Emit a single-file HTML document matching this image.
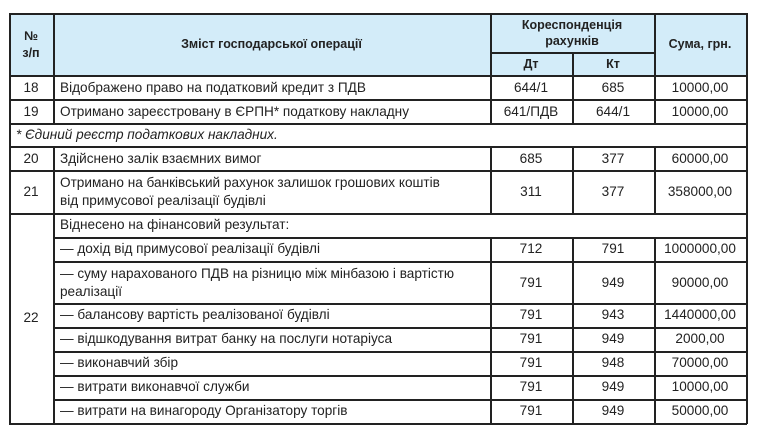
<!DOCTYPE html>
<html><head><meta charset="utf-8"><style>
body{margin:0;width:758px;height:437px;background:#fff;position:relative;overflow:hidden;font-family:"Liberation Sans","DejaVu Sans",sans-serif;font-size:13.6px;color:#222}
.h{position:absolute;height:1.5px;background:#222}
.v{position:absolute;width:1.5px;background:#222}
.bg{position:absolute;background:#d3ecf9}
.t{position:absolute;white-space:nowrap;line-height:16px}
.c{text-align:center}
.b{font-weight:bold}
</style></head><body>
<div class="bg" style="left:9px;top:13px;width:737px;height:62px"></div>
<!-- horizontal lines -->
<div class="h" style="left:9px;top:13px;width:738px"></div>
<div class="h" style="left:490px;top:52px;width:164px"></div>
<div class="h" style="left:9px;top:75px;width:738px"></div>
<div class="h" style="left:9px;top:99px;width:738px"></div>
<div class="h" style="left:9px;top:123px;width:738px"></div>
<div class="h" style="left:9px;top:146px;width:738px"></div>
<div class="h" style="left:9px;top:170px;width:738px"></div>
<div class="h" style="left:9px;top:213px;width:738px"></div>
<div class="h" style="left:53px;top:237px;width:694px"></div>
<div class="h" style="left:53px;top:261px;width:694px"></div>
<div class="h" style="left:53px;top:303px;width:694px"></div>
<div class="h" style="left:53px;top:327px;width:694px"></div>
<div class="h" style="left:53px;top:351px;width:694px"></div>
<div class="h" style="left:53px;top:375px;width:694px"></div>
<div class="h" style="left:53px;top:399px;width:694px"></div>
<div class="h" style="left:9px;top:423px;width:738px"></div>
<!-- vertical lines -->
<div class="v" style="left:9px;top:13px;height:411px"></div>
<div class="v" style="left:746px;top:13px;height:411px"></div>
<div class="v" style="left:53px;top:13px;height:110px"></div>
<div class="v" style="left:53px;top:146px;height:277px"></div>
<div class="v" style="left:490px;top:13px;height:110px"></div>
<div class="v" style="left:572px;top:52px;height:71px"></div>
<div class="v" style="left:654px;top:13px;height:110px"></div>
<div class="v" style="left:490px;top:146px;height:67px"></div>
<div class="v" style="left:572px;top:146px;height:67px"></div>
<div class="v" style="left:654px;top:146px;height:67px"></div>
<div class="v" style="left:490px;top:237px;height:186px"></div>
<div class="v" style="left:572px;top:237px;height:186px"></div>
<div class="v" style="left:654px;top:237px;height:186px"></div>
<!-- header -->
<div class="t c b" style="left:9px;width:44px;top:28px;font-size:12.5px;line-height:17px">№<br>з/п</div>
<div class="t c b" style="left:53px;width:437px;top:36px;font-size:12.5px">Зміст господарської операції</div>
<div class="t c b" style="left:490px;width:164px;top:17px;font-size:12.5px;line-height:16px">Кореспонденція<br>рахунків</div>
<div class="t c b" style="left:490px;width:82px;top:56px;font-size:12.5px">Дт</div>
<div class="t c b" style="left:572px;width:82px;top:56px;font-size:12.5px">Кт</div>
<div class="t c b" style="left:654px;width:92px;top:36px;font-size:12.5px">Сума, грн.</div>
<!-- rows -->
<div class="t c" style="left:9px;width:44px;top:80px">18</div>
<div class="t" style="left:60px;top:80px">Відображено право на податковий кредит з ПДВ</div>
<div class="t c" style="left:490px;width:82px;top:80px">644/1</div>
<div class="t c" style="left:572px;width:82px;top:80px">685</div>
<div class="t c" style="left:654px;width:92px;top:80px">10000,00</div>

<div class="t c" style="left:9px;width:44px;top:104px">19</div>
<div class="t" style="left:60px;top:104px">Отримано зареєстровану в ЄРПН* податкову накладну</div>
<div class="t c" style="left:490px;width:82px;top:104px">641/ПДВ</div>
<div class="t c" style="left:572px;width:82px;top:104px">644/1</div>
<div class="t c" style="left:654px;width:92px;top:104px">10000,00</div>

<div class="t" style="left:16px;top:127px;font-style:italic">* Єдиний реєстр податкових накладних.</div>

<div class="t c" style="left:9px;width:44px;top:151px">20</div>
<div class="t" style="left:60px;top:151px">Здійснено залік взаємних вимог</div>
<div class="t c" style="left:490px;width:82px;top:151px">685</div>
<div class="t c" style="left:572px;width:82px;top:151px">377</div>
<div class="t c" style="left:654px;width:92px;top:151px">60000,00</div>

<div class="t c" style="left:9px;width:44px;top:184px">21</div>
<div class="t" style="left:60px;top:174px;line-height:18px">Отримано на банківський рахунок залишок грошових коштів<br>від примусової реалізації будівлі</div>
<div class="t c" style="left:490px;width:82px;top:184px">311</div>
<div class="t c" style="left:572px;width:82px;top:184px">377</div>
<div class="t c" style="left:654px;width:92px;top:184px">358000,00</div>

<div class="t c" style="left:9px;width:44px;top:310px">22</div>
<div class="t" style="left:60px;top:217px">Віднесено на фінансовий результат:</div>

<div class="t" style="left:60px;top:241px">— дохід від примусової реалізації будівлі</div>
<div class="t c" style="left:490px;width:82px;top:241px">712</div>
<div class="t c" style="left:572px;width:82px;top:241px">791</div>
<div class="t c" style="left:654px;width:92px;top:241px">1000000,00</div>

<div class="t" style="left:60px;top:265px;line-height:18px">— суму нарахованого ПДВ на різницю між мінбазою і вартістю<br>реалізації</div>
<div class="t c" style="left:490px;width:82px;top:275px">791</div>
<div class="t c" style="left:572px;width:82px;top:275px">949</div>
<div class="t c" style="left:654px;width:92px;top:275px">90000,00</div>

<div class="t" style="left:60px;top:307px">— балансову вартість реалізованої будівлі</div>
<div class="t c" style="left:490px;width:82px;top:307px">791</div>
<div class="t c" style="left:572px;width:82px;top:307px">943</div>
<div class="t c" style="left:654px;width:92px;top:307px">1440000,00</div>

<div class="t" style="left:60px;top:331px">— відшкодування витрат банку на послуги нотаріуса</div>
<div class="t c" style="left:490px;width:82px;top:331px">791</div>
<div class="t c" style="left:572px;width:82px;top:331px">949</div>
<div class="t c" style="left:654px;width:92px;top:331px">2000,00</div>

<div class="t" style="left:60px;top:355px">— виконавчий збір</div>
<div class="t c" style="left:490px;width:82px;top:355px">791</div>
<div class="t c" style="left:572px;width:82px;top:355px">948</div>
<div class="t c" style="left:654px;width:92px;top:355px">70000,00</div>

<div class="t" style="left:60px;top:379px">— витрати виконавчої служби</div>
<div class="t c" style="left:490px;width:82px;top:379px">791</div>
<div class="t c" style="left:572px;width:82px;top:379px">949</div>
<div class="t c" style="left:654px;width:92px;top:379px">10000,00</div>

<div class="t" style="left:60px;top:403px">— витрати на винагороду Організатору торгів</div>
<div class="t c" style="left:490px;width:82px;top:403px">791</div>
<div class="t c" style="left:572px;width:82px;top:403px">949</div>
<div class="t c" style="left:654px;width:92px;top:403px">50000,00</div>
</body></html>
